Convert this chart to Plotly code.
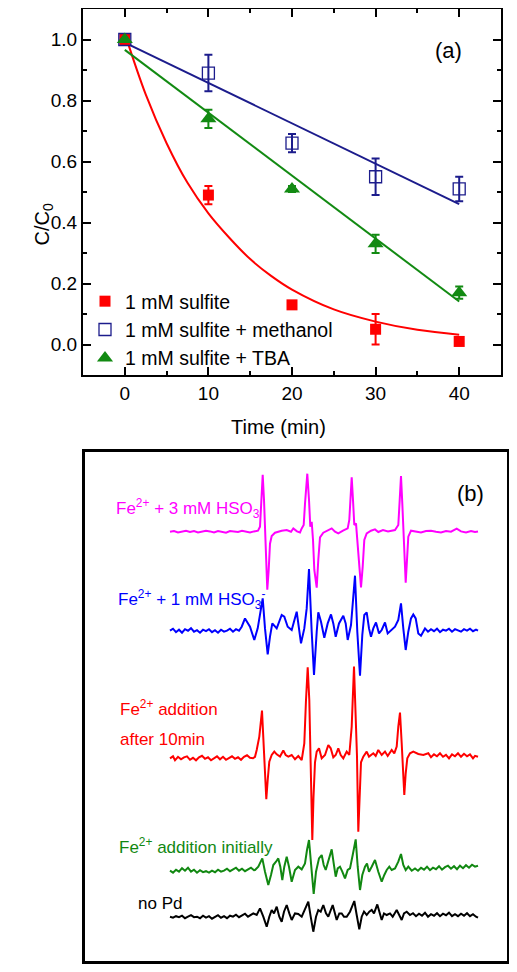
import plotly.graph_objects as go

# ---------------- Panel (a) data ----------------
time_min = [0, 10, 20, 30, 40]
sulfite = [1.0, 0.49, 0.13, 0.05, 0.01]
sulfite_err = [0.0, 0.03, 0.01, 0.05, 0.01]
methanol = [1.0, 0.89, 0.66, 0.55, 0.51]
methanol_err = [0.0, 0.06, 0.03, 0.06, 0.04]
tba = [1.0, 0.74, 0.51, 0.33, 0.17]
tba_err = [0.0, 0.03, 0.01, 0.03, 0.02]

fit_sulfite_t = [0, 2.5, 5, 7.5, 10, 12.5, 15, 17.5, 20, 25, 30, 35, 40]
fit_sulfite_c = [1.02, 0.82, 0.66, 0.53, 0.43, 0.35, 0.28, 0.225, 0.18, 0.115, 0.075, 0.048, 0.032]
fit_methanol_t = [0, 40]
fit_methanol_c = [0.99, 0.46]
fit_tba_t = [0, 40]
fit_tba_c = [0.966, 0.141]

legend_names = ["1 mM sulfite", "1 mM sulfite + methanol", "1 mM sulfite + TBA"]
x_ticks = [0, 10, 20, 30, 40]
y_ticks = [0.0, 0.2, 0.4, 0.6, 0.8, 1.0]

# ---------------- Panel (b) data (EPR spectra, channel vs. intensity, a.u.) ----------------
field_magenta = [0,4,8,12,16,20,24,28,32,36,40,44,48,52,56,60,64,68,72,76,80,84,88,90,91.3,92.7,94,95,96.3,97.3,
                 98.7,100,101.7,105,111.7,116.7,121,123.3,127,130,131.7,133.7,135,137.3,139,140.3,141.7,143,144.3,146.7,
                 148.3,150,153.3,158,161.7,165,168.3,173,177.7,179.3,180.3,181.7,183,184.3,186,187.7,189.3,191,192.7,194.3,
                 196.7,201,205,208.3,213,218,225,228.3,229.7,231,232.3,233.7,234.7,235.7,237,238.3,241,246,251,256,
                 261,266,271,276,281,286.7,291,296,301,305,308]
signal_magenta = [0,0.7,-0.7,0.3,1,-0.3,0.7,-0.7,0,1,0.3,-0.7,0.7,0,-1,0.7,0.3,-0.3,1,0,-0.7,0.3,1,5,32,57,32,0,-38,-58,
                  -38,-12,-4.3,-1,1,1.7,0,3.3,0.3,-0.7,3.3,6.7,28,58,32,5,10,-8,-38,-56,
                  -28,-5.7,-1,1,3.3,0,-1.7,1,3.3,11.7,31.7,54.3,31.7,6.7,8.3,-15,-41.7,-55.7,-35,-8.3,
                  -1.7,1,2.3,-0.3,1.7,0.3,1.7,6.7,31.7,55.7,28.3,0,-35,-51,-28.3,-5,1,0,-0.7,0.7,
                  1,0,-0.7,0.7,0,3,0.3,-0.7,0.7,-0.3,0.3]

field_blue = [0,3,6,9,12,15,18,21,24,27,30,33,36,39,42,45,48,51,54,57,60,63,66,69,71.7,75,80,84.3,87.7,90,
              92.7,95,97.7,100,102.3,106.7,111.7,114.3,117.7,121.7,126.7,131,134.3,136.7,139,141.7,144,146.7,148.3,151,
              154.3,157.7,161,163.3,165.7,169,173.3,175.7,177.7,181,182.7,185,187.3,190,192.3,194.3,196.7,199,201,203.3,
              206,209,211.7,215,217.7,221.7,225,228.3,231,233.3,235.7,238.3,241,243.3,245.7,248.3,251,255,258,261,
              264,267,270,273,276,279,282,285,288,291,294,297,300,303,306,308]
signal_blue = [0,2,-1.5,1,-2,1.5,0,2.5,-1,0.5,-2,1,-0.5,1.5,-1.5,0.5,-2,1,-1,0,2,-1,1.5,0,4,12.3,4,-9.3,2.3,15.7,
               32.3,2.3,-23.7,-6,7.3,2.3,15.7,14,4,0.7,19,-12.7,2.3,22.3,61.7,-1,-44.3,-1,18.3,9,
               -7,7.3,16.3,7.3,-6,7.3,15,7.3,-9.3,5.7,25.7,55,-1,-45,-4.3,15.7,18.3,2.3,-6,2.3,
               8.3,-2.7,0.7,8.3,-2.7,0.7,4,10.7,27.3,2.3,-19.3,-1,12.3,16.3,12.3,-2.7,-5,2.3,-1,1.5,
               -0.5,2,-1.5,1,0,2,-1,1.5,0.5,-1,1.5,0,2,-0.5,1,0]

field_red = [0,3,5,8,11,14,17,20,23,26,29,32,35,38,41,44,47,50,53,56,59,62,65,68,71,74,77,80,83,85,
             86.7,89.3,92,93.7,95,96.3,97.7,99.3,101.7,104.3,106.7,110,113.3,115.7,118.3,121.7,125,128.3,131.7,134.3,
             136,137.7,139.3,140.7,141.3,142.3,143.5,145,146.7,149,151.7,155,158.3,160.7,163.3,165.7,168.3,170.7,173.3,176.7,
             179.3,181.7,184,185.7,187,188.3,189.7,191,193.3,195,196.7,199,203.3,205.7,208.3,211.7,215,217.7,221.7,224.3,
             226.7,228.3,230,231.7,233,234.3,235.7,237.3,240,243.3,248.3,253.3,258.3,261,264,267,270,273,276,279,
             282,285,288,291,294,297,300,303,305,308]
signal_red = [-1,1,-3,0.5,-2,0,1,-2.5,-0.5,-3,0,1.5,-1.5,0,-3,-1,1,-2,0.5,-2.5,-0.5,1,-1.5,0,-2.5,0.5,2,-0.5,-1,0.5,
              7.3,20.7,46.7,10.7,-22.7,-42,-22.7,-4.3,2.3,5.7,3,0.7,6.7,2.3,0.7,2.3,-2,1.3,-2.7,14,
              57.3,90,57.3,4,-40,-82.7,-40,-5,5.7,9,-1,2.3,12.3,9,0,2.3,9,2.3,-1,5.7,
              2.3,30.7,90.7,47.3,0.7,-74.4,-35,-5,0.7,4,5.7,0.7,4,1.3,7.3,2.3,5.7,1.3,7.3,4,
              10.7,30.7,44.7,14,-19.3,-37.7,-16,-1,4,5.7,3.3,2.3,4,0,3,1,4,0.5,2.5,-1,
              3,1,4,0.5,3.5,1,3,-1,1.5,0.5]

field_green = [0,3,6,9,12,15,18,21,24,27,30,33,36,39,42,45,48,51,54,57,60,63,66,69,72,75,78,81,84,85,
               88.3,92.3,95,98.3,101,103.3,106,108.3,110.3,112.3,114.3,116.7,119,121.7,125,128.3,131.7,135,137,139,
               141.3,143.7,146,149,151.7,153.7,155.7,158.3,161.7,163.7,165.7,167.7,170,172.3,175,177.7,180,182.7,185.7,187.7,
               190,192.3,195,197,199,201.7,205,208.3,211.7,214.3,216.7,219.3,221.7,225,228.3,231,233.3,235.7,238.3,241.7,
               245,248,251,254,257,260,263,266,269,272,275,278,281,284,287,290,293,296,299,302,305,308]
signal_green = [0,-2,1,-1,2.5,0,3,-1,1,-2,0.5,-1.5,-0.5,-2,0,-1.5,1,-1,0,2,-0.5,1.5,3,0,2,-0.5,1.5,3,0.5,0.7,
                4,12.3,-1,-14.3,-4.3,5.7,9,12.3,4,-9.3,4,14,4,-11,0.7,4,1.3,7.3,20.7,30.7,
                4,-23.3,-1,12.3,15.7,5.7,0.7,9,21.3,7.3,-6,2.3,4,-1,-7.7,0.7,2.3,15.7,31.3,4,
                -19.3,-4.3,4,7.3,-1,4,10.7,-1,-11,-4.3,0.7,4,0.7,2.3,9,16.7,5.7,0.7,4,0,
                2.3,0,3,1,4,0.5,3,1.5,4.5,1,3.5,5,2,4.5,1.5,5,2.5,5.5,3,6,4,5]

field_black = [0,3,6,9,12,15,18,21,24,27,30,33,36,39,42,45,48,51,54,57,60,63,66,69,72,75,78,81,83.3,86.7,
               90,93.3,96.7,99.3,101.7,104,106.7,109.3,111.7,114,116.7,119.3,121.7,125,128.3,131.7,135,138.3,140.7,143.3,
               146,148.3,150.7,153.3,156,158.3,162.7,165,166.7,169.3,171.7,174,176.7,180,184.3,186.7,189.3,191.7,194,196.7,
               199.3,201.7,204,207.3,210,211.7,214,216.7,220,222.7,226.7,229.3,231.7,234,236.7,240,243,246,249,252,
               255,258,261,264,267,270,273,276,279,282,285,288,291,294,297,300,303,306,308]
signal_black = [0,-1,0.5,-0.5,1,-1.5,0,1.5,-0.5,0,-1.5,1,-1,0.5,-2,0,1.5,-1,0.5,-1.5,1,0,2,-0.5,1,3,0,2,3.3,1.7,
                8.3,0,-10,0,6.7,3.3,10,0,-5,5,11.7,3.3,-3.3,3.3,2.7,0,6.7,15,0,-15,
                0,6.7,5,11.7,3.3,0,11.7,3.3,-3.3,3.3,3.3,0,0,5,15.7,1.7,-12.7,0,5,1.7,
                5,6.7,3.3,12.3,1.7,-3.3,3.3,1.7,3.3,0,6.7,1.7,-3.3,3.3,5,1.7,3.5,0.5,3,1,
                4,0,2.5,1,3.5,0.5,3,1.5,4,0.5,2.5,0.5,3,1,3.5,0.5,2.5,0,-1]

spectrum_labels = ["Fe<sup>2+</sup> + 3 mM HSO<sub>3</sub>",
                   "Fe<sup>2+</sup> + 1 mM HSO<sub>3</sub><sup>-</sup>",
                   "Fe<sup>2+</sup> addition",
                   "after 10min",
                   "Fe<sup>2+</sup> addition initially",
                   "no Pd"]

# ---------------- styling / layout constants ----------------
FONT = "Arial, Liberation Sans, sans-serif"
RED = "#FF0000"
NAVY = "#1C1C8C"
GREEN = "#128A12"
PAGE_MARGIN = 8          # default body margin of the html page
W, H = 517 - 2 * PAGE_MARGIN, 972 - 2 * PAGE_MARGIN

def px(x):
    return (x - PAGE_MARGIN) / W

def py(y):
    return 1 - (y - PAGE_MARGIN) / H

fig = go.Figure()

# Panel (a): fits
fig.add_trace(go.Scatter(x=fit_sulfite_t, y=fit_sulfite_c, mode="lines", line=dict(color=RED, width=2, shape="spline"),
                         showlegend=False, hoverinfo="skip"))
fig.add_trace(go.Scatter(x=fit_methanol_t, y=fit_methanol_c, mode="lines", line=dict(color=NAVY, width=2),
                         showlegend=False, hoverinfo="skip"))
fig.add_trace(go.Scatter(x=fit_tba_t, y=fit_tba_c, mode="lines", line=dict(color=GREEN, width=2),
                         showlegend=False, hoverinfo="skip"))

# Panel (a): data
fig.add_trace(go.Scatter(x=time_min, y=sulfite, mode="markers", name=legend_names[0], legendgroup="g1",
                         marker=dict(symbol="square", size=11, color=RED),
                         error_y=dict(type="data", array=sulfite_err, color=RED, thickness=2, width=4)))
fig.add_trace(go.Scatter(x=time_min, y=methanol, mode="markers", name=legend_names[1], legendgroup="g2",
                         marker=dict(symbol="square-open", size=12, color=NAVY, line=dict(width=1.3, color=NAVY)),
                         error_y=dict(type="data", array=methanol_err, color=NAVY, thickness=2, width=4)))
fig.add_trace(go.Scatter(x=time_min, y=tba, mode="markers", name=legend_names[2], legendgroup="g3",
                         marker=dict(symbol="triangle-up", size=14, color=GREEN),
                         error_y=dict(type="data", array=tba_err, color=GREEN, thickness=2, width=4)))

# Panel (b): spectra
spectrum_offsets = [429.6, 330.6, 204.0, 90.6, 44.6]
spectra = [(field_magenta, signal_magenta, "#FF00FF"),
           (field_blue, signal_blue, "#0000FF"),
           (field_red, signal_red, "#FF0000"),
           (field_green, signal_green, "#118811"),
           (field_black, signal_black, "#000000")]
for (fx, sy, col), off in zip(spectra, spectrum_offsets):
    fig.add_trace(go.Scatter(x=fx, y=[v + off for v in sy], mode="lines", xaxis="x2", yaxis="y2",
                             line=dict(color=col, width=2), showlegend=False, hoverinfo="skip"))

axis_common = dict(showline=True, linewidth=2, linecolor="black", mirror="allticks", ticks="inside",
                   ticklen=8, tickwidth=2, tickcolor="black", showgrid=False, zeroline=False,
                   tickfont=dict(family=FONT, size=19, color="black"))

fig.update_layout(
    width=W, height=H, margin=dict(l=0, r=0, t=0, b=0),
    paper_bgcolor="white", plot_bgcolor="white",
    font=dict(family=FONT, color="black"),
    xaxis=dict(domain=[px(83), px(501)], range=[-5, 45], tickvals=x_ticks, anchor="y",
               minor=dict(dtick=5, tick0=0, ticklen=4, tickwidth=2, ticks="inside", tickcolor="black"),
               **axis_common),
    yaxis=dict(domain=[py(375), py(9)], range=[-0.1, 1.1], tickvals=y_ticks, tickformat=".1f", anchor="x",
               minor=dict(dtick=0.1, tick0=0, ticklen=4, tickwidth=2, ticks="inside", tickcolor="black"),
               **axis_common),
    xaxis2=dict(domain=[px(84.7), px(506.7)], range=[-85.3, 336.7], anchor="y2", showline=True, mirror=True,
                linewidth=3, linecolor="black", showticklabels=False, ticks="", showgrid=False, zeroline=False),
    yaxis2=dict(domain=[py(961.3), py(451.7)], range=[0, 509.6], anchor="x2", showline=True, mirror=True,
                linewidth=3, linecolor="black", showticklabels=False, ticks="", showgrid=False, zeroline=False),
    legend=dict(x=px(85), y=py(282), xanchor="left", yanchor="top", bgcolor="rgba(0,0,0,0)",
                font=dict(family=FONT, size=19.5, color="black"), traceorder="grouped", tracegroupgap=0,
                itemwidth=30),
    showlegend=True,
)

annotations = [
    dict(text="(a)", x=px(464), y=py(36), xref="paper", yref="paper", showarrow=False,
         font=dict(size=22, family=FONT, color="black")),
    dict(text="C/C<sub>0</sub>", x=px(28), y=py(202), xref="paper", yref="paper", showarrow=False, textangle=-90,
         font=dict(size=20, family=FONT, color="black")),
    dict(text="Time (min)", x=px(278), y=py(427), xref="paper", yref="paper", showarrow=False,
         font=dict(size=20, family=FONT, color="black")),
    dict(text="(b)", x=300, y=468.3, xref="x2", yref="y2", showarrow=False,
         font=dict(size=22, family=FONT, color="black")),
]
label_specs = [(spectrum_labels[0], -56, 453.3, "#FF00FF"),
               (spectrum_labels[1], -54, 362.3, "#0000FF"),
               (spectrum_labels[2], -52.3, 253.3, "#FF0000"),
               (spectrum_labels[3], -52.3, 222.3, "#FF0000"),
               (spectrum_labels[4], -53.3, 115.3, "#118811"),
               (spectrum_labels[5], -34, 58.3, "#000000")]
for txt, lx, ly, col in label_specs:
    annotations.append(dict(text=txt, x=lx, y=ly, xref="x2", yref="y2", xanchor="left", yanchor="middle",
                            showarrow=False, font=dict(size=17, family=FONT, color=col)))
fig.update_layout(annotations=annotations)

fig.write_html("out.html")
